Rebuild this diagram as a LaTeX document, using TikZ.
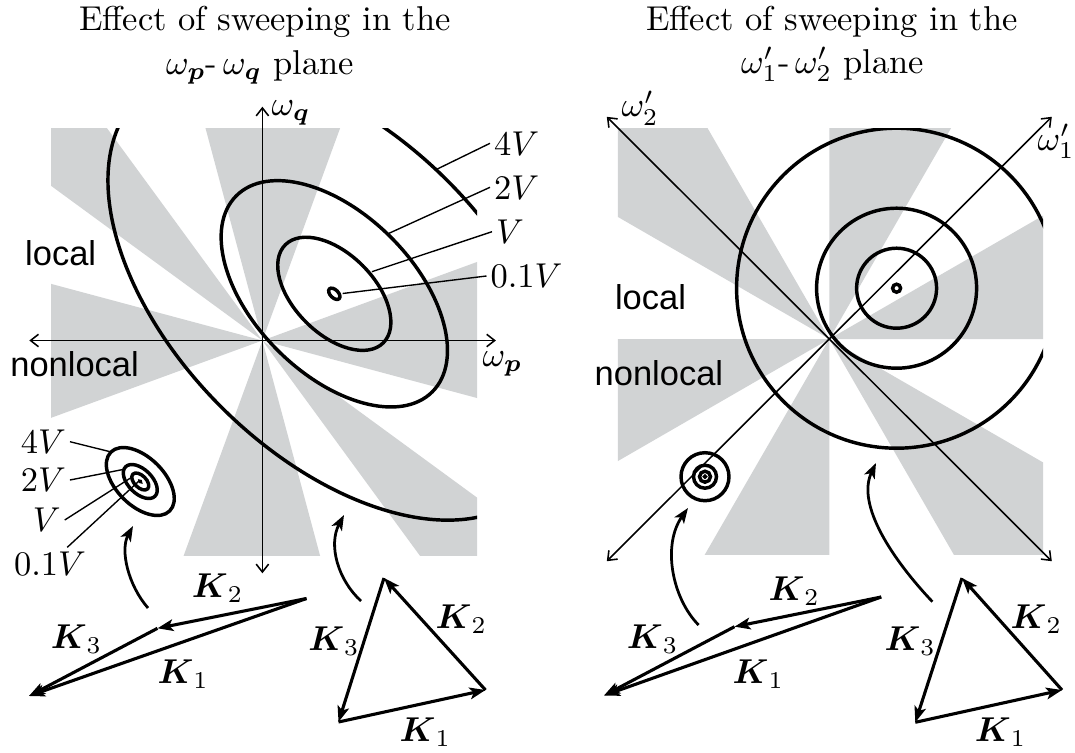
\documentclass[tikz,border=0pt]{standalone}
\usepackage{amsmath,amssymb}
\usepackage{fontspec}
\newfontfamily\regionfont{Liberation Sans}
\usepackage{tikz}
\usetikzlibrary{positioning}
\usetikzlibrary{arrows.meta,calc}
\definecolor{sectorgray}{RGB}{209,211,212}
\tikzset{
  axis/.style = {line width=0.45pt, >={Straight Barb[length=2.3pt,width=3.6pt]}, <->},
  contour/.style = {line width=1pt},
  leader/.style = {line width=0.4pt},
  kvec/.style = {line width=0.9pt, -{Stealth[length=4.6pt,width=3.4pt,inset=1.1pt]}},
  sweep/.style = {line width=0.8pt, -{Stealth[length=4.4pt,width=3.3pt,inset=1.1pt]}},
  region/.style = {font=\regionfont, inner sep=0pt, anchor=base west},
  axlabel/.style = {inner sep=0pt, anchor=base west},
  lvl/.style = {inner sep=1pt},
  klabel/.style = {inner sep=0pt, anchor=base},
}

\begin{document}
\begin{tikzpicture}[x=0.29pt, y=-0.29pt]
  \useasboundingbox (0,0) rectangle (1075,753);

  % titles
  \node[anchor=base] (titleL)  at (265,30)    {Effect of sweeping in the};
  \node[anchor=base] (titleLb) at (260,74)    {$\omega_{\boldsymbol{p}}$-\,$\omega_{\boldsymbol{q}}$ plane};
  \node[anchor=base] (titleR)  at (832,30)    {Effect of sweeping in the};
  \node[anchor=base] (titleRb) at (832.6,73.3) {$\omega'_1$-\,$\omega'_2$ plane};

  % omega_p - omega_q plane
  \coordinate (OL) at (262.4,340.5);
  \coordinate (cL) at (334.3,293.8);
  \coordinate (sL) at (140.3,481.5);
  \begin{scope}
    \clip (51,128.3) rectangle (477,555);
    \begin{scope}[shift={(OL)}, yscale=-1]
      \foreach \a/\b in {-15/20.1, 69.9/105, 126.2/143.8, 165/200.1, 249.9/285, 306.2/323.8}
        \fill[sectorgray] (0,0) -- (\a:600) -- (\b:600) -- cycle;
    \end{scope}
    \foreach \s in {0.1,1,2,4}
      \draw[contour, shift={(cL)}, rotate=135] (0,0) ellipse [x radius=69.3*\s, y radius=40*\s];
  \end{scope}
  \foreach \s in {1,0.5,0.25}
    \draw[contour, shift={(sL)}, rotate=135] (0,0) ellipse [x radius=41.6*\s, y radius=24*\s];
  \draw[line width=0.6pt, shift={(sL)}, rotate=135] (0,0) ellipse [x radius=1.4, y radius=0.9];

  \draw[axis] (29.3,340.5) -- (495.9,340.5);
  \draw[axis] (262.4,573.3) -- (262.4,106.7);
  \node[axlabel] (wq) at (271,115.5) {$\omega_{\boldsymbol{q}}$};
  \node[axlabel] (wp) at (482,366.7) {$\omega_{\boldsymbol{p}}$};

  \node[region] (locL)    at (24.5,265.7) {local};
  \node[region] (nonlocL) at (9.7,376.7)  {nonlocal};

  \node[lvl, anchor=west] (L4)  at (490,143.3)   {$4V$};
  \node[lvl, anchor=west] (L2)  at (490,187.3)   {$2V$};
  \node[lvl, anchor=west] (L1)  at (492,231.7)   {$V$};
  \node[lvl, anchor=west] (L01) at (486.5,276)   {$0.1V$};
  \coordinate (e4)  at (436.7,169.3);
  \coordinate (e2)  at (389,233.3);
  \coordinate (e1)  at (371.9,271.7);
  \coordinate (e01) at (342.6,293.5);
  \draw[leader] (e4) -- (L4.west);
  \draw[leader] (e2) -- (L2.west);
  \draw[leader] (e1) -- (L1.west);
  \draw[leader] (e01) -- (L01.west);

  \node[lvl] (S4)  at (43.3,441.7) {$4V$};
  \node[lvl] (S2)  at (43.3,480)   {$2V$};
  \node[lvl] (S1)  at (46.7,520)   {$V$};
  \node[lvl] (S01) at (50,563.3)   {$0.1V$};
  \coordinate (s4)  at (110,451.7);
  \coordinate (s2)  at (124,469.3);
  \coordinate (s1)  at (131,477.7);
  \coordinate (s01) at (139.3,480.7);
  \draw[leader] (S4.east) -- (s4);
  \draw[leader] (S2.east) -- (s2);
  \draw[leader] (S1.east) -- (s1);
  \draw[leader] (S01) -- (s01);

  \draw[sweep] (148,608) .. controls (128,585) and (120,550) .. (133,526);
  \draw[sweep] (361,601) .. controls (338,580) and (328,545) .. (344,515);

  \coordinate (tA) at (306.5,598.5);
  \coordinate (tB) at (157.5,628.3);
  \coordinate (tC) at (29,696);
  \draw[kvec] (tA) -- (tB);
  \draw[kvec] (tB) -- (tC);
  \draw[kvec] (tA) -- (tC);
  \node[klabel] (kA2) at (217.6,597.3) {$\boldsymbol{K}_2$};
  \node[klabel] (kA3) at (76.5,648.3)  {$\boldsymbol{K}_3$};
  \node[klabel] (kA1) at (183.2,683.3) {$\boldsymbol{K}_1$};

  \coordinate (tP) at (338.5,722);
  \coordinate (tQ) at (485.5,690);
  \coordinate (tR) at (384,578);
  \draw[kvec] (tP) -- (tQ);
  \draw[kvec] (tQ) -- (tR);
  \draw[kvec] (tR) -- (tP);
  \node[klabel] (kB3) at (334,650)     {$\boldsymbol{K}_3$};
  \node[klabel] (kB2) at (461.4,628.3) {$\boldsymbol{K}_2$};
  \node[klabel] (kB1) at (425.3,741.7) {$\boldsymbol{K}_1$};

  % omega'_1 - omega'_2 plane
  \coordinate (OR) at (829.3,339);
  \coordinate (cR) at (896.6,288.2);
  \coordinate (sR) at (705,476.7);
  \begin{scope}
    \clip (617.8,128.3) rectangle (1043.2,554);
    \begin{scope}[shift={(OR)}, yscale=-1]
      \foreach \a in {0,60,...,300}
        \fill[sectorgray] (0,0) -- (\a:600) -- (\a+30:600) -- cycle;
    \end{scope}
    \foreach \r in {4,40,80,160}
      \draw[contour] (cR) circle [radius=\r];
  \end{scope}
  \foreach \r in {24,11.5,5.5}
    \draw[contour] (sR) circle [radius=\r];
  \draw[line width=0.6pt] (sR) circle [radius=1.3];

  \draw[axis] (606.8,561.2) -- (1051.8,116.8);
  \draw[axis] (1051.8,561.2) -- (606.8,116.8);
  \node[axlabel] (w2) at (621,116.7)  {$\omega'_2$};
  \node[axlabel] (w1) at (1037,150)   {$\omega'_1$};

  \node[region] (locR)    at (614.4,309.3) {local};
  \node[region] (nonlocR) at (594,385)     {nonlocal};

  \draw[sweep] (698.6,625) .. controls (672,598) and (662,545) .. (688,508);
  \draw[sweep] (932.4,601.7) .. controls (893,560) and (856,505) .. (876,463);

  \coordinate (uA) at (881.2,597);
  \coordinate (uB) at (734.5,626.7);
  \coordinate (uC) at (604,695.5);
  \draw[kvec] (uA) -- (uB);
  \draw[kvec] (uB) -- (uC);
  \draw[kvec] (uA) -- (uC);
  \node[klabel] (kC2) at (794.2,600)   {$\boldsymbol{K}_2$};
  \node[klabel] (kC3) at (652.6,648.3) {$\boldsymbol{K}_3$};
  \node[klabel] (kC1) at (758.4,683.3) {$\boldsymbol{K}_1$};

  \coordinate (uP) at (915.3,722.3);
  \coordinate (uQ) at (1062,690);
  \coordinate (uR) at (962,578);
  \draw[kvec] (uP) -- (uQ);
  \draw[kvec] (uQ) -- (uR);
  \draw[kvec] (uR) -- (uP);
  \node[klabel] (kD3) at (910.2,650)    {$\boldsymbol{K}_3$};
  \node[klabel] (kD2) at (1036.4,628.3) {$\boldsymbol{K}_2$};
  \node[klabel] (kD1) at (1000.6,741.7) {$\boldsymbol{K}_1$};
\end{tikzpicture}
\end{document}
